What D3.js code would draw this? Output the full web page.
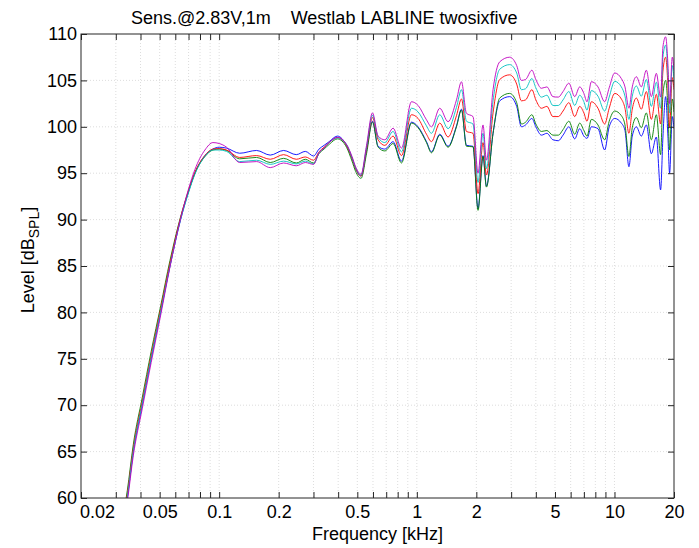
<!DOCTYPE html>
<html>
<head>
<meta charset="utf-8">
<script src="https://cdn.jsdelivr.net/npm/d3@7"></script>
<style>
  body { margin: 0; background: #fff; }
  svg { display: block; }
  text { font-family: "Liberation Sans", Arial, sans-serif; fill: #000; }
  .tick text { font-size: 18px; }
</style>
</head>
<body>
<svg id="fig" width="699" height="548"></svg>
<script>
// frequency in kHz, levels in dB SPL
const freq = [0.030, 0.0343, 0.0368, 0.0408, 0.0453, 0.0506, 0.0564, 0.0638, 0.070, 0.0754,
  0.0847, 0.093, 0.100, 0.109, 0.127, 0.1546, 0.1813, 0.2118, 0.2456, 0.2728,
  0.3002, 0.320, 0.3394, 0.360, 0.3965, 0.4408, 0.470, 0.49, 0.522, 0.5566,
  0.5966, 0.637, 0.6886, 0.7586, 0.836, 0.9396, 1.015, 1.119, 1.186, 1.306,
  1.439, 1.587, 1.682, 1.783, 1.924, 2.04, 2.162, 2.25, 2.43, 2.626,
  2.95, 3.2, 3.38, 3.55, 3.82, 4.0, 4.27, 4.55, 4.88, 5.2,
  5.49, 5.88, 6.29, 6.67, 7.0, 7.26, 7.64, 8.25, 8.92, 9.4,
  10.02, 10.83, 11.3, 11.83, 12.3, 12.9, 13.67, 14.49, 15.36, 16.28,
  17.11, 17.58, 18.14, 18.63, 19.0, 19.6, 20.0];

const levelBlue = [53.6, 60.0, 65.0, 70.0, 75.0, 80.0, 85.0, 90.0, 93.0, 95.0,
  96.9, 97.6, 97.8, 97.7, 97.15, 97.45, 96.95, 97.45, 97.0, 97.35,
  96.85, 97.6, 98.0, 98.4, 99.0, 98.0, 96.6, 95.5, 94.7, 97.4,
  100.6, 97.9, 97.6, 98.4, 96.3, 100.5, 100.0, 98.4, 97.3, 99.2,
  97.9, 100.1, 101.9, 98.0, 97.9, 91.2, 96.9, 93.6, 99.3, 102.8,
  103.25, 102.2, 100.0, 100.2, 100.9, 100.0, 99.1, 99.3, 98.6, 98.5,
  99.1, 100.0, 98.7, 99.8, 99.0, 98.75, 100.0, 99.8, 97.5, 100.0,
  100.9, 100.4, 99.6, 95.7, 99.0, 100.0, 99.0, 100.2, 97.1, 98.9,
  93.2, 98.9, 103.25, 99.0, 95.0, 101.1, 99.8];

const levelGreen = [54.4, 60.8, 65.8, 70.8, 75.8, 80.7, 85.6, 90.3, 93.1, 95.0,
  96.8, 97.5, 97.6, 97.45, 96.55, 96.7, 96.15, 96.6, 96.1, 96.5,
  96.1, 97.1, 97.6, 98.1, 98.7, 97.8, 96.3, 95.2, 94.45, 97.1,
  100.5, 97.8, 97.4, 98.2, 96.1, 100.4, 99.9, 98.3, 97.2, 99.1,
  97.8, 100.0, 101.8, 97.9, 97.85, 91.0, 96.8, 93.5, 99.3, 103.1,
  103.6, 102.6, 100.3, 100.5, 101.3, 100.3, 99.5, 99.6, 99.1, 99.1,
  99.7, 100.6, 99.2, 100.4, 99.6, 99.0, 100.8, 100.2, 98.6, 100.6,
  101.7, 101.2, 100.2, 96.8, 99.9, 101.0, 99.9, 101.5, 98.6, 101.3,
  97.0, 103.5, 105.0, 102.0, 97.5, 103.0, 101.6];

const levelRed = [54.0, 60.4, 65.4, 70.4, 75.4, 80.4, 85.3, 90.2, 93.1, 95.1,
  96.9, 97.6, 97.65, 97.5, 96.7, 96.9, 96.5, 97.0, 96.5, 96.75,
  96.4, 97.3, 97.8, 98.3, 98.85, 98.0, 96.6, 95.5, 94.7, 97.6,
  101.0, 98.6, 98.0, 99.0, 96.9, 101.3, 100.9, 99.2, 98.4, 100.4,
  98.9, 101.2, 103.0, 99.5, 99.3, 92.8, 98.3, 94.8, 101.5, 105.1,
  105.6, 104.6, 102.8, 102.9, 104.0, 102.9, 102.0, 102.2, 101.1, 101.1,
  101.7, 102.6, 101.1, 102.2, 101.5, 100.6, 102.7, 102.0, 100.3, 102.0,
  103.6, 103.0, 102.0, 99.3, 101.9, 103.1, 101.9, 103.8, 100.8, 103.5,
  100.3, 106.0, 107.5, 104.4, 100.0, 105.3, 104.0];

const levelCyan = [53.8, 60.1, 65.1, 70.1, 75.1, 80.1, 85.0, 90.0, 92.9, 94.9,
  96.8, 97.5, 97.5, 97.35, 96.25, 96.4, 95.95, 96.3, 96.0, 96.3,
  96.0, 97.2, 97.7, 98.3, 98.8, 98.1, 96.7, 95.6, 94.8, 97.8,
  101.25, 98.85, 98.3, 99.5, 97.3, 102.0, 101.6, 100.1, 99.3, 101.3,
  99.8, 102.1, 104.0, 100.6, 100.3, 94.0, 99.3, 95.5, 102.8, 106.2,
  106.7, 105.8, 104.0, 104.1, 105.2, 104.2, 103.2, 103.4, 102.3, 102.3,
  102.9, 103.8, 102.3, 103.4, 102.7, 101.8, 103.9, 103.3, 101.7, 103.2,
  104.9, 104.3, 103.3, 100.8, 103.3, 104.4, 103.3, 105.1, 102.2, 104.8,
  102.0, 107.5, 108.8, 105.8, 101.5, 106.6, 105.2];

const levelMagenta = [53.2, 59.6, 64.6, 69.6, 74.6, 79.7, 84.9, 90.1, 93.3, 95.4,
  97.5, 98.3, 98.2, 97.8, 96.15, 96.25, 95.6, 96.1, 95.8, 96.15,
  95.95, 97.2, 97.7, 98.3, 98.85, 98.1, 96.8, 95.7, 94.9, 98.0,
  101.5, 99.0, 98.6, 99.85, 97.7, 102.7, 102.3, 100.75, 100.0, 102.0,
  100.55, 102.9, 104.85, 101.45, 101.1, 95.0, 100.2, 96.4, 104.0, 107.0,
  107.5, 106.6, 105.0, 105.1, 106.1, 105.1, 104.15, 104.3, 103.25, 103.2,
  103.8, 104.7, 103.25, 104.3, 103.6, 102.7, 104.86, 104.3, 102.7, 104.2,
  105.8, 105.2, 104.3, 102.0, 104.3, 105.4, 104.3, 106.1, 103.25, 105.76,
  103.2, 108.6, 109.7, 106.8, 102.5, 107.5, 106.1];

const seriesNames = ["blue", "green", "red", "cyan", "magenta"];
const seriesLevels = [levelBlue, levelGreen, levelRed, levelCyan, levelMagenta];
const seriesColors = ["#0000ff", "#007f00", "#ff0000", "#00bfbf", "#bf00bf"];

const xTickLabels = [0.02, 0.05, 0.1, 0.2, 0.5, 1, 2, 5, 10, 20];
const xMinorTicks = [0.02, 0.03, 0.04, 0.05, 0.06, 0.07, 0.08, 0.09,
  0.1, 0.2, 0.3, 0.4, 0.5, 0.6, 0.7, 0.8, 0.9,
  1, 2, 3, 4, 5, 6, 7, 8, 9, 10, 20];
const yTicks = [60, 65, 70, 75, 80, 85, 90, 95, 100, 105, 110];

const titleText = "Sens.@2.83V,1m    Westlab LABLINE twosixfive";

let pLeft = 81, pRight = 674, pTop = 34, pBottom = 498;

let xScale = d3.scaleLog().domain([0.02, 20]).range([pLeft, pRight]);
let yScale = d3.scaleLinear().domain([60, 110]).range([pBottom, pTop]);

let svg = d3.select("#fig");

svg.append("defs").append("clipPath").attr("id", "plotclip")
    .append("rect")
    .attr("x", pLeft).attr("y", pTop)
    .attr("width", pRight - pLeft).attr("height", pBottom - pTop);

// grid
let grid = svg.append("g").attr("class", "grid");
grid.selectAll(".vgrid")
    .data(xMinorTicks.slice(1, -1))
    .enter()
    .append("line")
    .attr("x1", d => xScale(d)).attr("x2", d => xScale(d))
    .attr("y1", pTop).attr("y2", pBottom)
    .style("stroke", "#d4d4d4")
    .style("stroke-width", 0.8)
    .style("stroke-dasharray", "1,2");
grid.selectAll(".hgrid")
    .data(yTicks.slice(1, -1))
    .enter()
    .append("line")
    .attr("x1", pLeft).attr("x2", pRight)
    .attr("y1", d => yScale(d)).attr("y2", d => yScale(d))
    .style("stroke", "#d4d4d4")
    .style("stroke-width", 0.8)
    .style("stroke-dasharray", "1,2");

// curves
let line = d3.line()
    .x((d, i) => xScale(freq[i]))
    .y(d => yScale(d))
    .curve(d3.curveMonotoneX);

svg.append("g")
    .attr("clip-path", "url(#plotclip)")
    .selectAll("path")
    .data(seriesLevels)
    .enter()
    .append("path")
    .attr("class", (d, i) => "curve " + seriesNames[i])
    .attr("d", line)
    .style("fill", "none")
    .style("stroke", (d, i) => seriesColors[i])
    .style("stroke-width", 0.9);

// axes (ticks inside, box)
function styleAxis(g) {
    g.select(".domain").remove();
    g.selectAll(".tick line").style("stroke", "#262626");
}
svg.append("g").attr("transform", `translate(0,${pBottom})`)
    .call(d3.axisBottom(xScale).tickValues(xMinorTicks).tickSize(-6).tickFormat(""))
    .call(styleAxis);
svg.append("g").attr("transform", `translate(0,${pTop})`)
    .call(d3.axisTop(xScale).tickValues(xMinorTicks).tickSize(-6).tickFormat(""))
    .call(styleAxis);
svg.append("g").attr("transform", `translate(${pLeft},0)`)
    .call(d3.axisLeft(yScale).tickValues(yTicks).tickSize(-6).tickPadding(4).tickFormat(d3.format("d")))
    .call(styleAxis);
svg.append("g").attr("transform", `translate(${pRight},0)`)
    .call(d3.axisRight(yScale).tickValues(yTicks).tickSize(-6).tickFormat(""))
    .call(styleAxis);

let xLabels = svg.append("g").attr("transform", `translate(0,${pBottom})`)
    .call(d3.axisBottom(xScale).tickValues(xTickLabels).tickSize(0).tickPadding(7)
        .tickFormat(d => String(d)))
    .call(g => g.select(".domain").remove());
// first label sits to the right of the corner in the original
xLabels.selectAll(".tick text").filter(d => d === 0.02).attr("dx", 16);

svg.append("rect")
    .attr("x", pLeft).attr("y", pTop)
    .attr("width", pRight - pLeft).attr("height", pBottom - pTop)
    .style("fill", "none")
    .style("stroke", "#262626")
    .style("stroke-width", 1);

// labels
svg.append("text")
    .attr("x", 131).attr("y", 24)
    .style("font-size", "18px")
    .style("white-space", "pre")
    .text(titleText);

svg.append("text")
    .attr("x", (pLeft + pRight) / 2).attr("y", 540)
    .attr("text-anchor", "middle")
    .style("font-size", "18px")
    .text("Frequency [kHz]");

let yl = svg.append("text")
    .attr("transform", `translate(34,${(pTop + pBottom) / 2 - 6}) rotate(-90)`)
    .attr("text-anchor", "middle")
    .style("font-size", "18px");
yl.append("tspan").text("Level [dB");
yl.append("tspan").attr("dy", 5).style("font-size", "14px").text("SPL");
yl.append("tspan").attr("dy", -5).text("]");
</script>
</body>
</html>
